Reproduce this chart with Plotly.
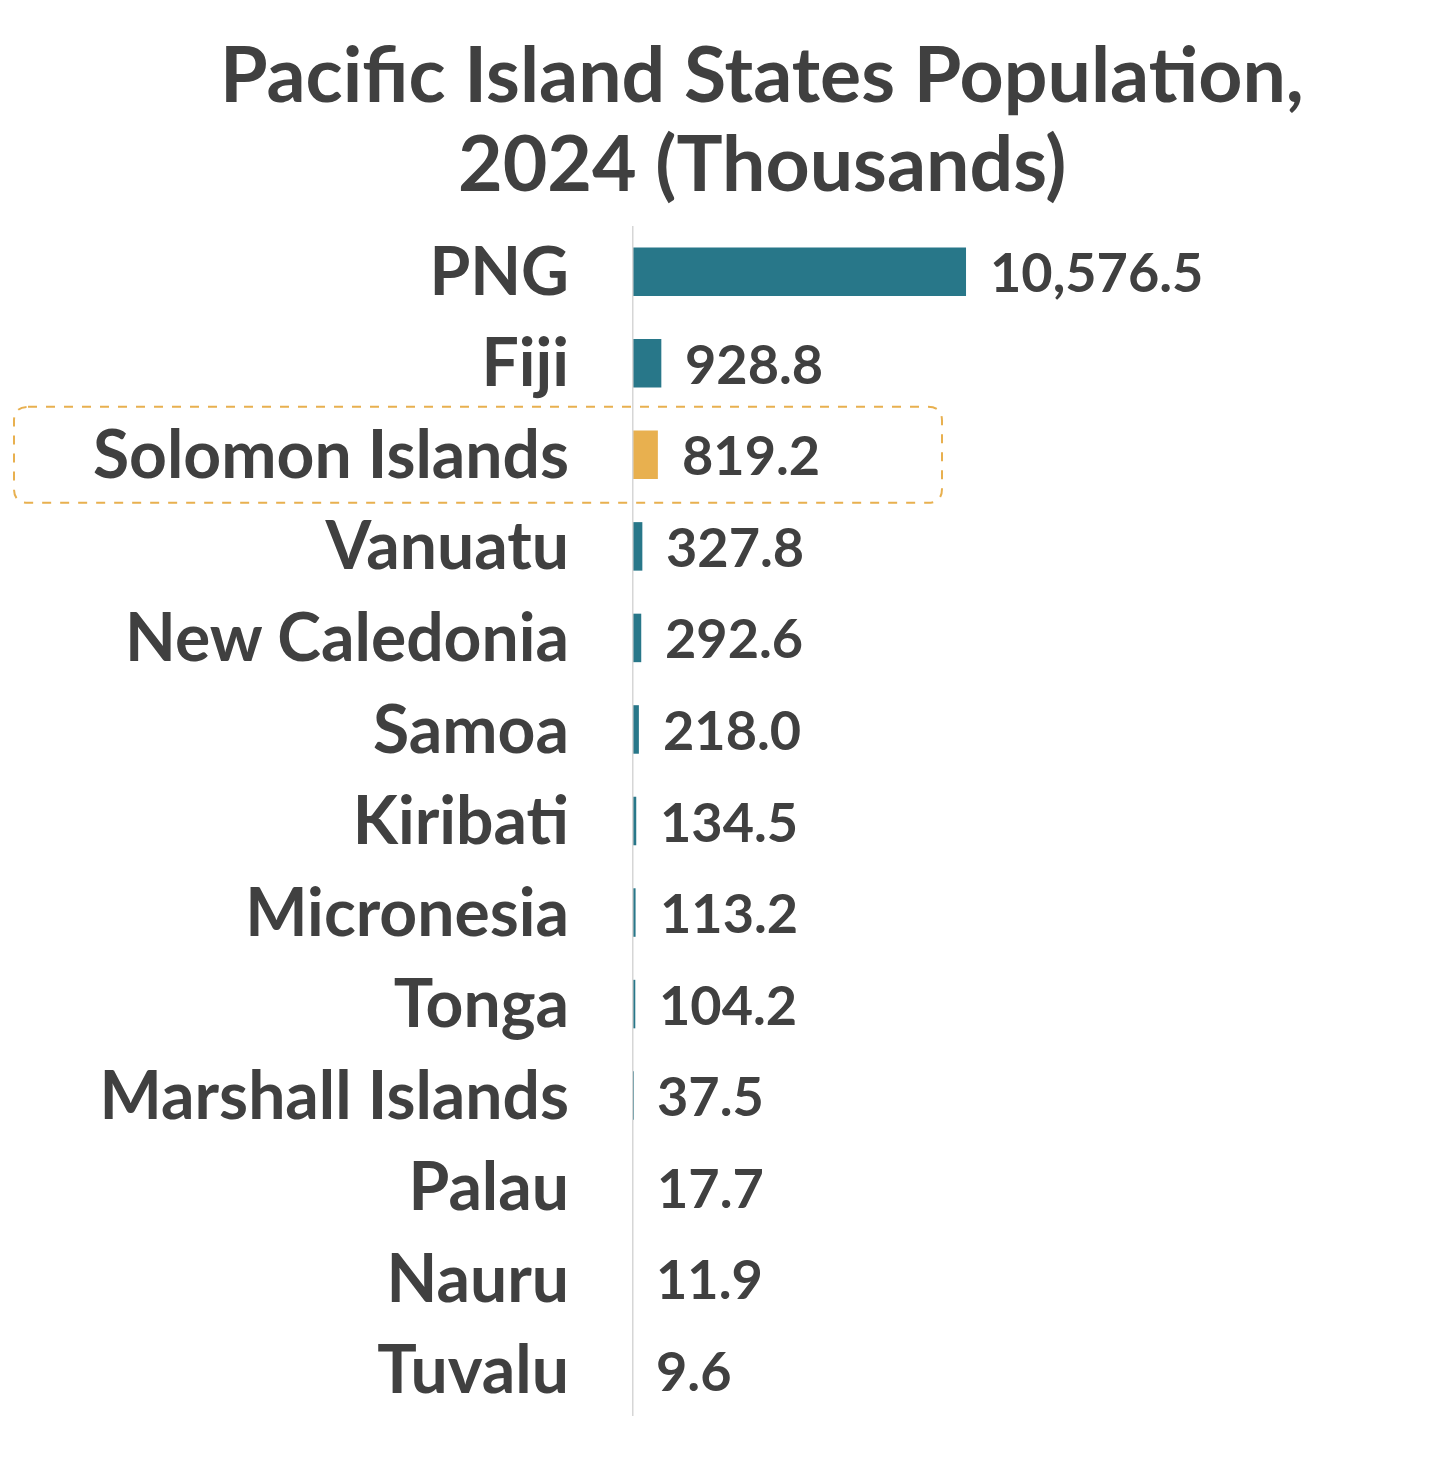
import plotly.graph_objects as go

COUNTRIES = ["PNG", "Fiji", "Solomon Islands", "Vanuatu", "New Caledonia", "Samoa",
             "Kiribati", "Micronesia", "Tonga", "Marshall Islands", "Palau", "Nauru", "Tuvalu"]
POPULATION = [10576.5, 928.8, 819.2, 327.8, 292.6, 218.0, 134.5, 113.2, 104.2, 37.5, 17.7, 11.9, 9.6]
HIGHLIGHT = "Solomon Islands"
TITLE_LINES = ["Pacific Island States Population,", "2024 (Thousands)"]

TEAL = "#287789"
ORANGE = "#E8B04F"
TEXT = "#404040"
FONT = "Lato"

colors = [ORANGE if c == HIGHLIGHT else TEAL for c in COUNTRIES]

fig = go.Figure()
fig.add_trace(go.Bar(
    x=POPULATION, y=COUNTRIES, orientation="h",
    marker=dict(color=colors, line=dict(width=0)),
    width=0.53, hoverinfo="skip",
))

# value labels just right of each bar
for c, v in zip(COUNTRIES, POPULATION):
    fig.add_annotation(
        x=v, y=c, text=f"{v:,.1f}", showarrow=False,
        xanchor="left", xshift=22,
        font=dict(family=FONT, size=54, color=TEXT, weight="bold"),
    )

# two-line title, placed by hand above the plot
for text, ty in zip(TITLE_LINES, [1.1290, 1.0550]):
    fig.add_annotation(
        x=0.163, y=ty, xref="paper", yref="paper", text=text, showarrow=False,
        xanchor="center", yanchor="middle",
        font=dict(family=FONT, size=77, color=TEXT, weight="bold"),
    )

# dashed rounded box around the highlighted row (pixel path anchored to the row)
idx = COUNTRIES.index(HIGHLIGHT)
y_mid = 1 - (idx + 0.5) / len(COUNTRIES)
r = 14
L, R, T, B = -618, 310, 48, -48
path = (f"M {L + r},{T} L {R - r},{T} Q {R},{T} {R},{T - r} L {R},{B + r} "
        f"Q {R},{B} {R - r},{B} L {L + r},{B} Q {L},{B} {L},{B + r} "
        f"L {L},{T - r} Q {L},{T} {L + r},{T} Z")
fig.add_shape(
    type="path", path=path, xref="paper", yref="paper",
    xsizemode="pixel", ysizemode="pixel", xanchor=0, yanchor=y_mid,
    line=dict(color=ORANGE, width=2, dash="dash"), fillcolor="rgba(0,0,0,0)",
    layer="above",
)

fig.update_layout(
    width=1443, height=1474,
    plot_bgcolor="#ffffff", paper_bgcolor="#ffffff",
    margin=dict(l=624, r=20, t=218, b=66),
    xaxis=dict(range=[0, 25300], visible=False, fixedrange=True),
    yaxis=dict(
        autorange="reversed", showgrid=False, zeroline=False,
        showline=False, ticks="", ticklabelstandoff=62,
        tickfont=dict(family=FONT, size=66, color=TEXT, weight="bold"),
    ),
    showlegend=False,
    bargap=0.47,
)
fig.add_vline(x=0, line=dict(color="#D6D6D6", width=3), layer="above")

fig.write_html("out.html")
